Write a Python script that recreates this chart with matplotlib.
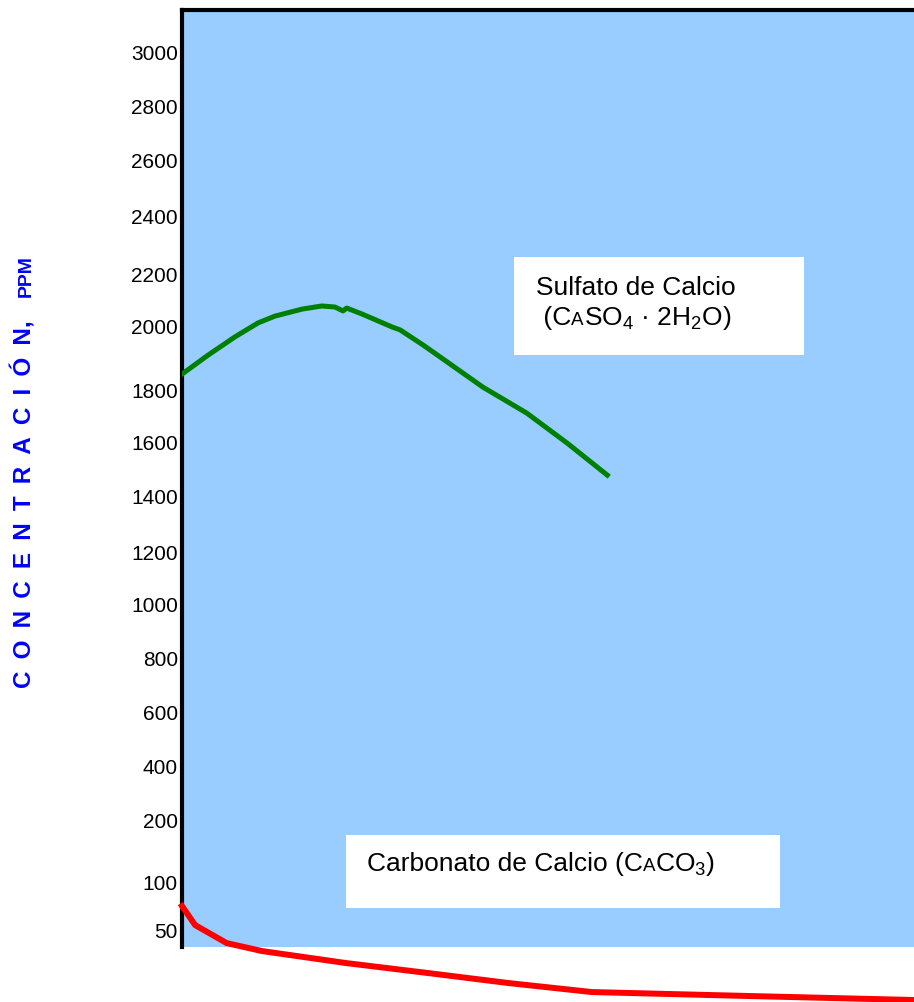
import numpy as np
import matplotlib.pyplot as plt
from matplotlib.patches import Rectangle
from matplotlib.offsetbox import TextArea, HPacker, AnnotationBbox

plt.rcParams['font.family'] = ['Liberation Sans', 'DejaVu Sans']
plt.rcParams['mathtext.default'] = 'regular'

# eje vertical del original (no lineal): valor en ppm -> altura en px
escala_ppm = [0, 50, 100, 200, 400, 600, 800, 1000, 1200, 1400, 1600,
              1800, 2000, 2200, 2400, 2600, 2800, 3000, 3200]
escala_px = [0, 71, 120, 181, 236, 290, 344, 397, 450, 505, 559,
             611, 676, 728, 786, 841, 895, 949, 1003]
ticks_ppm = [50, 100, 200, 400, 600, 800, 1000, 1200, 1400, 1600,
             1800, 2000, 2200, 2400, 2600, 2800, 3000]

# sulfato de calcio (CaSO4 . 2H2O)
x_sulfato = [0, 3.6, 7.2, 10.4, 12.7, 16.4, 19.1, 20.9, 22.0, 22.5,
             24.6, 28.7, 29.8, 32.9, 34.3, 41.1, 47.1, 52.6, 58.1]
ppm_sulfato = [1852, 1911, 1966, 2012, 2038, 2065, 2077, 2073, 2058, 2069,
               2046, 1997, 1988, 1942, 1920, 1812, 1715, 1600, 1481]

# carbonato de calcio (CaCO3)
x_carbonato = [0, 1.8, 6.1, 10.9, 22.3, 33.6, 44.5, 56.0, 77.6, 100]
ppm_carbonato = [75.5, 56, 41.5, 35.9, 27.5, 20.4, 13.4, 7.0, 4.2, 1.4]


def a_px(v):
    return np.interp(v, escala_ppm, escala_px)


def a_ppm(p):
    return np.interp(p, escala_px, escala_ppm)


fig = plt.figure(figsize=(9.14, 10.02), dpi=100)
ax = fig.add_axes([182 / 914, 55 / 1002, 732 / 914, 937 / 1002])
ax.set_facecolor('#99CCFF')
ax.set_yscale('function', functions=(a_px, a_ppm))
ax.set_xlim(0, 100)
ax.set_ylim(a_ppm(55), a_ppm(992))

ax.plot(x_sulfato, ppm_sulfato, color='#008000', lw=3.6, zorder=4,
        solid_joinstyle='round')
ax.plot(x_carbonato, ppm_carbonato, color='#FF0000', lw=4.3, clip_on=False, zorder=5,
        solid_joinstyle='round')

ax.set_yticks(ticks_ppm)
ax.set_yticklabels([str(t) for t in ticks_ppm])
ax.tick_params(axis='y', length=0, pad=3, labelsize=15)
ax.set_xticks([])
ax.yaxis.set_minor_locator(plt.NullLocator())
for lado in ['right', 'bottom']:
    ax.spines[lado].set_visible(False)
for lado in ['top', 'left']:
    ax.spines[lado].set_linewidth(3)
    ax.spines[lado].set_color('black')

# cuadros blancos con las etiquetas
ax.add_patch(Rectangle((0.4536, 0.6318), 0.3961, 0.1046, transform=ax.transAxes,
                       facecolor='white', edgecolor='none', zorder=3))
ax.add_patch(Rectangle((0.224, 0.0416), 0.593, 0.0779, transform=ax.transAxes,
                       facecolor='white', edgecolor='none', zorder=3))


def etiqueta(partes, xy):
    cajas = [TextArea(t, textprops=dict(fontsize=s, color='black')) for t, s in partes]
    fila = HPacker(children=cajas, align='baseline', pad=0, sep=0)
    ab = AnnotationBbox(fila, xy, xycoords='figure pixels', box_alignment=(0, 0),
                        frameon=False, pad=0, zorder=6)
    ax.add_artist(ab)


etiqueta([("Sulfato de Calcio", 19)], (536, 1002 - 294 - 6))
etiqueta([(" (C", 19), ("A", 13.5), ("SO$_4$ · 2H$_2$O)", 19)], (536, 1002 - 326 - 6))
etiqueta([("Carbonato de Calcio (C", 19), ("A", 13.5), ("CO$_3$)", 19)], (367, 1002 - 872 - 6))

# titulo del eje vertical (letras espaciadas)
titulo = "\u2002".join("CONCENTRACIÓN") + ","
fig.text(24 / 914, 1 - 688 / 1002, titulo, rotation=90,
         ha='center', va='bottom', fontsize=17.5, fontweight='bold', color='blue')
fig.text(26 / 914, 1 - 297 / 1002, "PPM", rotation=90,
         ha='center', va='bottom', fontsize=14, fontweight='bold', color='blue')

fig.savefig('out.png', dpi=100)
